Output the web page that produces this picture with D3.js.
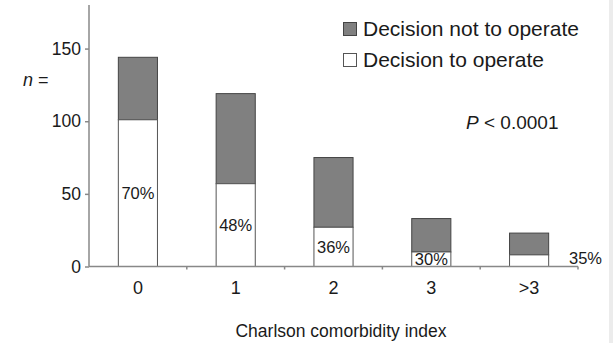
<!DOCTYPE html>
<html>
<head>
<meta charset="utf-8">
<script src="https://cdn.jsdelivr.net/npm/d3@7"></script>
<style>
  body { margin: 0; background: #fff; }
  text { font-family: "Liberation Sans", Arial, sans-serif; fill: #1a1a1a; }
</style>
</head>
<body>
<div id="chart"></div>
<script>
// charlson index groups
var categories = ["0", "1", "2", "3", ">3"];
var operate = [101, 57, 27, 10, 8];
var notOperate = [43, 62, 48, 23, 15];
var pctLabels = ["70%", "48%", "36%", "30%", "35%"];
var yTicks = [0, 50, 100, 150];

var svgWidth = 613, svgHeight = 343;
var margin = {top: 5, left: 89, right: 35, bottom: 77};
var width = 578 - margin.left,
    height = 266.5 - margin.top;

var svg = d3.select("#chart").append("svg")
  .attr("width", svgWidth)
  .attr("height", svgHeight);

// light border strip on right
svg.append("rect").attr("x", 609).attr("y", 0).attr("width", 4).attr("height", svgHeight).attr("fill", "#ececec");

var g = svg.append("g").attr("transform", "translate(" + margin.left + "," + margin.top + ")");

var x = d3.scaleBand().domain(categories).range([0, width]).paddingInner(0.6).paddingOuter(0.3);
var xb = d3.scaleBand().domain(categories).range([0, width]);
var y = d3.scaleLinear().domain([0, 180]).range([height, 0]);

// bars: not operate on top
g.selectAll(".top").data(categories).enter().append("rect")
  .attr("x", function(d) { return x(d); })
  .attr("width", x.bandwidth())
  .attr("y", function(d, i) { return y(operate[i] + notOperate[i]); })
  .attr("height", function(d, i) { return y(operate[i]) - y(operate[i] + notOperate[i]); })
  .attr("fill", "#808080")
  .attr("stroke", "#444")
  .attr("stroke-width", 1);

g.selectAll(".bot").data(categories).enter().append("rect")
  .attr("x", function(d) { return x(d); })
  .attr("width", x.bandwidth())
  .attr("y", function(d, i) { return y(operate[i]); })
  .attr("height", function(d, i) { return y(0) - y(operate[i]); })
  .attr("fill", "#fff")
  .attr("stroke", "#555")
  .attr("stroke-width", 1);

// percent labels at half of operate height, last one beside the bar
g.selectAll(".pct").data(categories).enter().append("text")
  .attr("x", function(d, i) { return i == 4 ? xb(d) + xb.bandwidth() - 9 : x(d) + x.bandwidth() / 2; })
  .attr("y", function(d, i) { return i == 4 ? y(operate[i] / 2) - 3 : y(operate[i] / 2); })
  .attr("dy", "0.36em")
  .attr("text-anchor", function(d, i) { return i == 4 ? "start" : "middle"; })
  .style("font-size", "16.5px")
  .text(function(d, i) { return pctLabels[i]; });

// axes
var yAxis = g.append("g")
  .call(d3.axisLeft(y).tickValues(yTicks).tickSize(4).tickPadding(4));
yAxis.select(".domain").attr("d", "M0," + y(180) + "V" + y(0)).attr("stroke", "#888").attr("stroke-width", 1.5);
yAxis.selectAll(".tick line").attr("stroke", "#888").attr("stroke-width", 1.5);
yAxis.selectAll("text").style("font-size", "17.5px").attr("fill", "#1a1a1a");

var xAxis = g.append("g").attr("transform", "translate(0," + height + ")");
xAxis.append("line").attr("x1", 0).attr("x2", width).attr("stroke", "#888").attr("stroke-width", 1.5);
xAxis.selectAll(".xt").data(categories).enter().append("line")
  .attr("x1", function(d) { return xb(d) + xb.step(); })
  .attr("x2", function(d) { return xb(d) + xb.step(); })
  .attr("y1", 0).attr("y2", 3)
  .attr("stroke", "#888").attr("stroke-width", 1.5);
xAxis.selectAll(".xl").data(categories).enter().append("text")
  .attr("x", function(d) { return xb(d) + xb.bandwidth() / 2; })
  .attr("y", 27)
  .attr("text-anchor", "middle")
  .style("font-size", "18px")
  .text(function(d) { return d; });

// axis titles
svg.append("text").attr("x", 341).attr("y", 337).attr("text-anchor", "middle")
  .style("font-size", "17.5px").text("Charlson comorbidity index");
var nt = svg.append("text").attr("x", 23).attr("y", 86).style("font-size", "18px");
nt.append("tspan").style("font-style", "italic").text("n");
nt.append("tspan").text(" =");

var pt = svg.append("text").attr("x", 466).attr("y", 129).style("font-size", "19px");
pt.append("tspan").style("font-style", "italic").text("P");
pt.append("tspan").text(" < 0.0001");

// legend
var legend = [["Decision not to operate", "#808080", "#444"], ["Decision to operate", "#fff", "#555"]];
legend.forEach(function(l, i) {
  svg.append("rect").attr("x", 343.5).attr("y", 22.5 + i * 31).attr("width", 13).attr("height", 13)
    .attr("fill", l[1]).attr("stroke", l[2]).attr("stroke-width", 1);
  svg.append("text").attr("x", 363).attr("y", 35.5 + i * 31).style("font-size", "21px").text(l[0]);
});
</script>
</body>
</html>
